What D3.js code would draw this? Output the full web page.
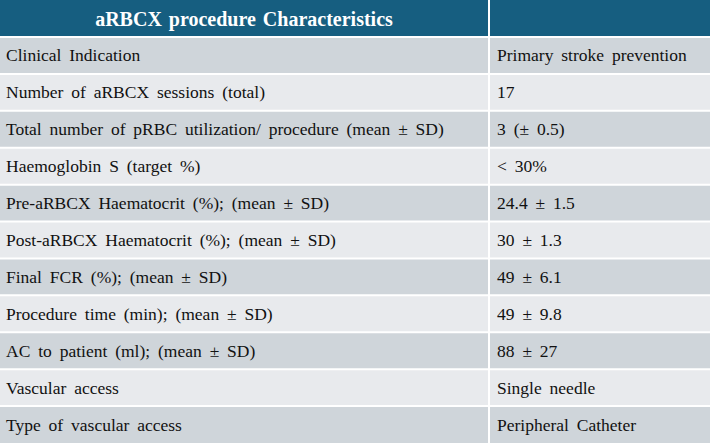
<!DOCTYPE html>
<html><head><meta charset="utf-8">
<script src="https://cdn.jsdelivr.net/npm/d3@7"></script>
<style>body{margin:0;background:#fff}</style>
</head><body>
<svg id="chart" width="710" height="443"></svg>
<script>
const title = "aRBCX procedure Characteristics";
const labels = ["Clinical Indication","Number of aRBCX sessions (total)","Total number of pRBC utilization/ procedure (mean ± SD)","Haemoglobin S (target %)","Pre-aRBCX Haematocrit (%); (mean ± SD)","Post-aRBCX Haematocrit (%); (mean ± SD)","Final FCR (%); (mean ± SD)","Procedure time (min); (mean ± SD)","AC to patient (ml); (mean ± SD)","Vascular access","Type of vascular access"];
const values = ["Primary stroke prevention","17","3 (± 0.5)","< 30%","24.4 ± 1.5","30 ± 1.3","49 ± 6.1","49 ± 9.8","88 ± 27","Single needle","Peripheral Catheter"];

const svg = d3.select("#chart");
const W = 710, H = 443, headH = 37, splitX = 489;
const y = d3.scaleBand().domain(d3.range(labels.length)).range([headH, H]);
const bodyFont = "17.5px 'Liberation Serif', serif";

svg.append("rect").attr("width", W).attr("height", headH).attr("fill", "#165e80");
svg.append("text").attr("x", 244).attr("y", headH / 2 + 7)
  .attr("text-anchor", "middle").attr("fill", "#fff").style("word-spacing", "2px")
  .style("font", "bold 20px 'Liberation Serif', serif").text(title);

const rows = svg.selectAll("g.row").data(labels).join("g").attr("class", "row")
  .attr("transform", (d, i) => `translate(0,${y(i)})`);
rows.append("rect").attr("width", W).attr("height", y.bandwidth())
  .attr("fill", (d, i) => i % 2 ? "#e8eaed" : "#cfd5da");
rows.append("text").attr("x", 6).attr("y", y.bandwidth() / 2 + 6)
  .style("font", bodyFont).style("word-spacing", "3.5px").attr("fill", "#111").text(d => d);
rows.append("text").attr("x", splitX + 8).attr("y", y.bandwidth() / 2 + 6)
  .style("font", bodyFont).style("word-spacing", "3.5px").attr("fill", "#111").text((d, i) => values[i]);

// grid lines
svg.selectAll("line.h").data(d3.range(labels.length)).join("line")
  .attr("x1", 0).attr("x2", W).attr("y1", i => y(i)).attr("y2", i => y(i))
  .attr("stroke", "#fff").attr("stroke-width", 2);
svg.append("line").attr("x1", splitX).attr("x2", splitX).attr("y1", 0).attr("y2", H)
  .attr("stroke", "#fff").attr("stroke-width", 2);
</script>
</body></html>
